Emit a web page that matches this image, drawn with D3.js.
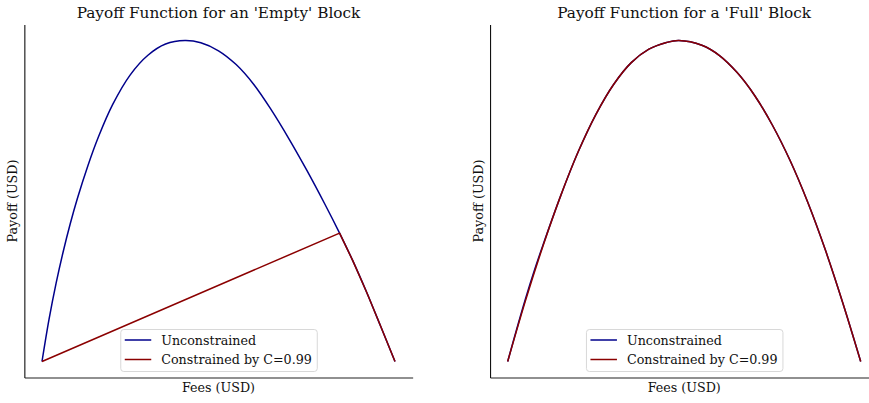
<!DOCTYPE html>
<html>
<head>
<meta charset="utf-8">
<script src="https://cdn.jsdelivr.net/npm/d3@7"></script>
<style>
  html, body { margin: 0; padding: 0; background: #fff; }
  svg { display: block; font-family: "DejaVu Serif", serif; }
</style>
</head>
<body>
<svg id="chart" width="869" height="403"></svg>
<script>
// Panel titles and labels
const titles = ["Payoff Function for an 'Empty' Block", "Payoff Function for a 'Full' Block"];
const xLabel = "Fees (USD)";
const yLabel = "Payoff (USD)";
const seriesNames = ["Unconstrained", "Constrained by C=0.99"];
const seriesColors = ["#00008b", "#8b0000"];

// 'Empty' block: unconstrained payoff curve (fees, payoff)
const emptyFees =   [0, 2, 4, 6, 8, 10, 13, 16, 20, 25, 30, 35, 40.5, 45, 50, 55, 60, 65, 70, 75, 80, 84.3, 88, 92, 96, 100];
const emptyPayoff = [0, 13.2, 24.4, 34.2, 42.9, 50.7, 61.0, 70.0, 80.0, 89.3, 95.4, 98.9, 100, 99.3, 96.8, 92.5, 86.3, 78.3, 69.3, 59.6, 49.3, 40.0, 31.5, 21.5, 10.8, 0];
// 'Empty' block: payoff constrained by C=0.99
const emptyFeesC =   [0, 84.3, 88, 92, 96, 100];
const emptyPayoffC = [0, 40.0, 31.5, 21.5, 10.8, 0];

// 'Full' block: unconstrained payoff curve
const fullFees =   [0, 2.5, 5, 7.5, 10, 15, 20, 25, 30, 35, 40, 45, 48.5, 55, 60, 65, 70, 75, 80, 85, 90, 95, 100];
const fullPayoff = [0, 9.9, 19.4, 28.2, 36.3, 51.6, 65.4, 77.0, 86.3, 93.1, 97.3, 99.4, 100, 98.5, 95.3, 90.0, 82.8, 73.6, 62.6, 49.6, 34.7, 18.0, 0];
// 'Full' block: payoff constrained by C=0.99
const fullFeesC =   [0, 5, 10, 15, 20, 25, 30, 35, 40, 45, 48.5, 55, 60, 65, 70, 75, 80, 85, 90, 95, 100];
const fullPayoffC = [0, 18.8, 36.0, 51.6, 65.4, 77.0, 86.3, 93.1, 97.3, 99.4, 100, 98.5, 95.3, 90.0, 82.8, 73.6, 62.6, 49.6, 34.7, 18.0, 0];

const zip = (xs, ys) => xs.map((x, i) => [x, ys[i]]);

const panels = [
  {
    title: titles[0],
    left: 24.35, right: 412.65, yLabelX: 17,
    series: [
      { pts: zip(emptyFees, emptyPayoff), curve: d3.curveCatmullRom.alpha(0.5) },
      { pts: zip(emptyFeesC, emptyPayoffC), curve: d3.curveLinear }
    ]
  },
  {
    title: titles[1],
    left: 490.05, right: 878.35, yLabelX: 483,
    series: [
      { pts: zip(fullFees, fullPayoff), curve: d3.curveCatmullRom.alpha(0.5) },
      { pts: zip(fullFeesC, fullPayoffC), curve: d3.curveCatmullRom.alpha(0.5) }
    ]
  }
];

const svg = d3.select("#chart");
const plotTop = 24.45, plotBottom = 377.55;

function padded(values) {
  const [lo, hi] = d3.extent(values);
  const m = (hi - lo) * 0.05;
  return [lo - m, hi + m];
}

panels.forEach(p => {
  const allX = p.series.flatMap(s => s.pts.map(d => d[0]));
  const allY = p.series.flatMap(s => s.pts.map(d => d[1]));
  const x = d3.scaleLinear().domain(padded(allX)).range([p.left, p.right]);
  const y = d3.scaleLinear().domain(padded(allY)).range([plotBottom, plotTop]);
  const g = svg.append("g");

  // spines (left and bottom only, no ticks)
  g.append("g")
    .attr("transform", `translate(0,${plotBottom})`)
    .call(d3.axisBottom(x).tickValues([]).tickSizeOuter(0))
    .call(a => a.select(".domain").attr("stroke", "#222").attr("stroke-width", 1.1));
  g.append("g")
    .attr("transform", `translate(${p.left},0)`)
    .call(d3.axisLeft(y).tickValues([]).tickSizeOuter(0))
    .call(a => a.select(".domain").attr("stroke", "#111").attr("stroke-width", 1.1));

  // curves
  p.series.forEach((s, i) => {
    const line = d3.line().x(d => x(d[0])).y(d => y(d[1])).curve(s.curve);
    g.append("path")
      .datum(s.pts)
      .attr("d", line)
      .attr("fill", "none")
      .attr("stroke", seriesColors[i])
      .attr("stroke-width", 1.5)
      .attr("stroke-linejoin", "round");
  });

  const cx = (p.left + p.right) / 2;

  // title and axis labels
  g.append("text")
    .attr("x", cx).attr("y", 18)
    .attr("text-anchor", "middle")
    .attr("font-size", 15.3)
    .attr("fill", "#111")
    .text(p.title);
  g.append("text")
    .attr("x", cx).attr("y", 392)
    .attr("text-anchor", "middle")
    .attr("font-size", 12.7)
    .attr("fill", "#111")
    .text(xLabel);
  g.append("text")
    .attr("transform", `translate(${p.yLabelX},${(plotTop + plotBottom) / 2}) rotate(-90)`)
    .attr("text-anchor", "middle")
    .attr("font-size", 12.7)
    .attr("fill", "#111")
    .text(yLabel);

  // legend, lower centre
  const lw = 196.5, lh = 42;
  const lg = g.append("g").attr("transform", `translate(${cx - lw / 2},${329})`);
  lg.append("rect")
    .attr("x", 0.5).attr("y", 0.5)
    .attr("width", lw).attr("height", lh)
    .attr("rx", 3)
    .attr("fill", "#fff").attr("fill-opacity", 0.8)
    .attr("stroke", "#d8d8d8");
  seriesNames.forEach((name, i) => {
    const yy = 11 + i * 19.5;
    lg.append("line")
      .attr("x1", 4.5).attr("x2", 31)
      .attr("y1", yy).attr("y2", yy)
      .attr("stroke", seriesColors[i]).attr("stroke-width", 1.5);
    lg.append("text")
      .attr("x", 41).attr("y", yy + 4.6)
      .attr("font-size", 12.7)
      .attr("fill", "#111")
      .text(name);
  });
});
</script>
</body>
</html>
